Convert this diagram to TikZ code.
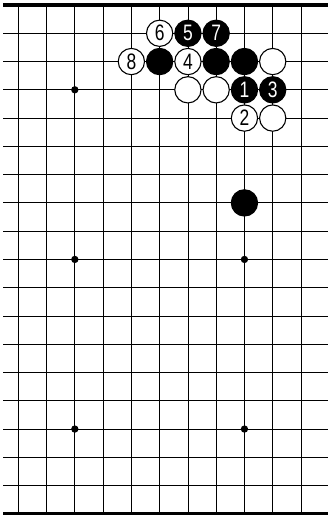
\documentclass[tikz,border=0pt]{standalone}
\usepackage{fontspec}
\usepackage{tikz}
\newfontfamily\stonefont[FakeStretch=0.78]{Liberation Sans}

\begin{document}
\begin{tikzpicture}[
		g/.style = {draw=black, line width=0.8pt},
		e/.style = {draw=black, line width=3.3pt},
		w/.style = {circle, draw=black, fill=white, line width=1.1pt, minimum size=0.93cm, inner sep=0pt, font=\stonefont\fontsize{22.5}{22.5}\selectfont},
		b/.style = {circle, draw=black, fill=black, text=white, line width=1.1pt, minimum size=0.93cm, inner sep=0pt, font=\stonefont\fontsize{22.5}{22.5}\selectfont},
		star/.style = {circle, fill=black, minimum size=0.26cm, inner sep=0pt}
		]
		\useasboundingbox (-0.647, -18.076) rectangle (10.955, 0.177);
		
		%Edges
		\draw[e]	(-0.53, 0)		to	(10.955, 0);
		\draw[e]	(-0.53, -18)	to	(10.955, -18);
		
		%Lines
		\draw[g]	(-0.53, -1)		to	(10.955, -1);
		\draw[g]	(-0.53, -2)		to	(10.955, -2);
		\draw[g]	(-0.53, -3)		to	(10.955, -3);
		\draw[g]	(-0.53, -4)		to	(10.955, -4);
		\draw[g]	(-0.53, -5)		to	(10.955, -5);
		\draw[g]	(-0.53, -6)		to	(10.955, -6);
		\draw[g]	(-0.53, -7)		to	(10.955, -7);
		\draw[g]	(-0.53, -8)		to	(10.955, -8);
		\draw[g]	(-0.53, -9)		to	(10.955, -9);
		\draw[g]	(-0.53, -10)	to	(10.955, -10);
		\draw[g]	(-0.53, -11)	to	(10.955, -11);
		\draw[g]	(-0.53, -12)	to	(10.955, -12);
		\draw[g]	(-0.53, -13)	to	(10.955, -13);
		\draw[g]	(-0.53, -14)	to	(10.955, -14);
		\draw[g]	(-0.53, -15)	to	(10.955, -15);
		\draw[g]	(-0.53, -16)	to	(10.955, -16);
		\draw[g]	(-0.53, -17)	to	(10.955, -17);
		
		\draw[g]	(0, 0)		to	(0, -18);
		\draw[g]	(1, 0)		to	(1, -18);
		\draw[g]	(2, 0)		to	(2, -18);
		\draw[g]	(3, 0)		to	(3, -18);
		\draw[g]	(4, 0)		to	(4, -18);
		\draw[g]	(5, 0)		to	(5, -18);
		\draw[g]	(6, 0)		to	(6, -18);
		\draw[g]	(7, 0)		to	(7, -18);
		\draw[g]	(8, 0)		to	(8, -18);
		\draw[g]	(9, 0)		to	(9, -18);
		\draw[g]	(10, 0)		to	(10, -18);
		
		%Stars
		\node[star]	(s1)	at	(2, -3)		{};
		\node[star]	(s2)	at	(2, -9)		{};
		\node[star]	(s3)	at	(2, -15)	{};
		\node[star]	(s4)	at	(8, -9)		{};
		\node[star]	(s5)	at	(8, -15)	{};
		
		%Stones
		\node[w]	(w6)	at	(5, -1)		{6};
		\node[b]	(b5)	at	(6, -1)		{5};
		\node[b]	(b7)	at	(7, -1)		{7};
		
		\node[w]	(w8)	at	(4, -2)		{8};
		\node[b]	(ba)	at	(5, -2)		{};
		\node[w]	(w4)	at	(6, -2)		{4};
		\node[b]	(bb)	at	(7, -2)		{};
		\node[b]	(bc)	at	(8, -2)		{};
		\node[w]	(wa)	at	(9, -2)		{};
		
		\node[w]	(wb)	at	(6, -3)		{};
		\node[w]	(wc)	at	(7, -3)		{};
		\node[b]	(b1)	at	(8, -3)		{1};
		\node[b]	(b3)	at	(9, -3)		{3};
		
		\node[w]	(w2)	at	(8, -4)		{2};
		\node[w]	(wd)	at	(9, -4)		{};
		
		\node[b]	(bd)	at	(8, -7)		{};
	\end{tikzpicture}
\end{document}
